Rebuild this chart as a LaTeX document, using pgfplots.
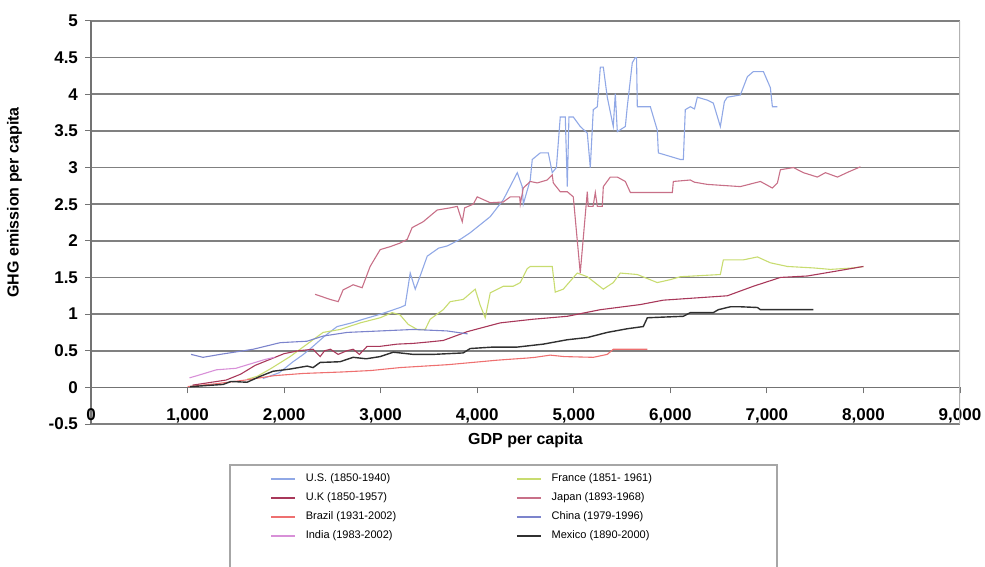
\documentclass[border=0pt]{standalone}
\usepackage{pgfplots}
\pgfplotsset{compat=1.18}
\usepackage{fontspec}
\setmainfont{Liberation Sans}
\definecolor{usc}{HTML}{90A8E6}
\definecolor{chinac}{HTML}{7C84CC}
\definecolor{francec}{HTML}{C8DC70}
\definecolor{ukc}{HTML}{A8385A}
\definecolor{japanc}{HTML}{C87088}
\definecolor{brazilc}{HTML}{EE7070}
\definecolor{indiac}{HTML}{D890D8}
\definecolor{mexicoc}{HTML}{303030}
\begin{document}
\begin{tikzpicture}
\begin{axis}[
  width=434.5pt, height=201.5pt, scale only axis,
  xmin=0, xmax=9000, ymin=-0.5, ymax=5,
  axis x line=middle, axis y line=left,
  axis line style={-, draw=black!55, line width=0.6pt},
  hide obscured x ticks=false,
  xtick={0,1000,...,9000},
  ytick={-0.5,0,0.5,1,1.5,2,2.5,3,3.5,4,4.5,5},
  tick align=outside, major tick length=3pt,
  tick style={draw=black!55, line width=0.5pt},
  ymajorgrids,
  major grid style={draw=black!50, line width=0.8pt},
  /pgf/number format/assume math mode=true,
  /pgf/number format/1000 sep={,},
  tick label style={font=\bfseries\fontsize{8.5}{10}\selectfont},
  xticklabel style={yshift=-4pt},
  xlabel={GDP per capita},
  ylabel={GHG emission per capita},
  xlabel style={font=\bfseries\fontsize{8}{10}\selectfont, at={(axis description cs:0.5,-0.04)}, anchor=center},
  ylabel style={font=\bfseries\fontsize{8}{10}\selectfont, at={(axis description cs:-0.088,0.55)}, anchor=center, rotate=0},
  legend columns=2,
  legend image code/.code={\draw[#1, line width=0.7pt] (0pt,0pt) -- (12pt,0pt);},
  legend style={draw=none, fill=none, inner sep=0pt, at={(axis description cs:0.206,-0.112)}, anchor=north west,
    font=\fontsize{5.5}{6.5}\selectfont, cells={anchor=west}, row sep=0pt,
    /tikz/every odd column/.append style={column sep=3pt},
    /tikz/every even column/.append style={column sep=58pt}},
  every axis plot/.append style={line width=0.55pt},
]
% U.S.
\addplot[usc] coordinates {
(1780,0.12)(1950,0.2)(2093,0.35)(2200,0.45)(2300,0.56)(2420,0.7)(2549,0.83)(2700,0.88)(2819,0.93)(3000,1.0)(3202,1.09)(3254,1.12)(3306,1.56)(3358,1.34)(3409,1.52)(3482,1.79)(3600,1.9)(3689,1.93)(3824,2.02)(3927,2.11)(4031,2.22)(4135,2.33)(4270,2.56)(4415,2.93)(4466,2.74)(4477,2.5)(4549,2.83)(4570,3.11)(4653,3.2)(4736,3.2)(4777,2.93)(4820,3.0)(4860,3.69)(4912,3.69)(4933,2.74)(4950,3.69)(4995,3.69)(5067,3.56)(5140,3.47)(5171,3.0)(5202,3.79)(5244,3.83)(5275,4.37)(5306,4.37)(5347,3.96)(5409,3.56)(5430,4.01)(5451,3.49)(5534,3.56)(5554,3.83)(5606,4.43)(5637,4.5)(5650,4.5)(5658,3.83)(5793,3.83)(5865,3.51)(5876,3.2)(6104,3.11)(6135,3.11)(6155,3.79)(6207,3.83)(6250,3.8)(6280,3.96)(6383,3.92)(6445,3.88)(6518,3.56)(6560,3.9)(6590,3.96)(6725,3.99)(6798,4.24)(6860,4.31)(6964,4.31)(7036,4.09)(7057,3.83)(7109,3.83)
};
\addlegendentry{U.S. (1850-1940)}
% France
\addplot[francec] coordinates {
(1617,0.11)(1720,0.15)(1855,0.25)(2062,0.42)(2238,0.59)(2404,0.75)(2580,0.79)(2788,0.88)(2995,0.95)(3119,1.02)(3200,0.99)(3285,0.86)(3378,0.79)(3461,0.79)(3513,0.93)(3648,1.06)(3720,1.17)(3855,1.2)(3979,1.34)(4031,1.12)(4083,0.95)(4135,1.29)(4270,1.38)(4373,1.38)(4446,1.43)(4518,1.62)(4549,1.65)(4777,1.65)(4808,1.3)(4891,1.34)(5036,1.56)(5140,1.51)(5306,1.34)(5409,1.43)(5482,1.56)(5658,1.54)(5865,1.43)(6000,1.47)(6104,1.51)(6518,1.54)(6549,1.74)(6756,1.74)(6902,1.78)(7036,1.7)(7212,1.65)(7482,1.63)(7658,1.61)(7896,1.63)(8000,1.65)
};
\addlegendentry{France (1851- 1961)}
% U.K.
\addplot[ukc] coordinates {
(1050,0.03)(1200,0.06)(1400,0.1)(1550,0.18)(1700,0.3)(1850,0.38)(2000,0.46)(2150,0.5)(2300,0.52)(2373,0.42)(2420,0.5)(2480,0.52)(2560,0.45)(2650,0.5)(2715,0.52)(2780,0.45)(2860,0.56)(2995,0.56)(3171,0.59)(3337,0.6)(3500,0.62)(3648,0.64)(3896,0.76)(4238,0.88)(4580,0.93)(4933,0.97)(5275,1.06)(5689,1.13)(5927,1.19)(6591,1.25)(6860,1.38)(7140,1.5)(7420,1.52)(7689,1.58)(8000,1.65)
};
\addlegendentry{U.K (1850-1957)}
% Japan
\addplot[japanc] coordinates {
(2321,1.27)(2477,1.2)(2560,1.17)(2611,1.33)(2715,1.4)(2808,1.36)(2891,1.65)(2995,1.88)(3098,1.92)(3202,1.97)(3275,2.02)(3326,2.18)(3440,2.26)(3585,2.42)(3720,2.45)(3793,2.47)(3845,2.26)(3870,2.45)(3959,2.5)(4000,2.6)(4135,2.52)(4270,2.53)(4342,2.6)(4440,2.6)(4446,2.5)(4477,2.72)(4549,2.81)(4622,2.79)(4725,2.83)(4777,2.9)(4788,2.79)(4860,2.67)(4933,2.67)(4995,2.6)(5067,1.56)(5140,2.67)(5150,2.47)(5200,2.47)(5223,2.66)(5244,2.47)(5295,2.47)(5306,2.74)(5378,2.87)(5451,2.87)(5534,2.81)(5586,2.66)(6021,2.66)(6031,2.81)(6207,2.83)(6250,2.8)(6383,2.77)(6725,2.74)(6933,2.81)(7057,2.72)(7109,2.79)(7140,2.97)(7275,3.0)(7378,2.93)(7523,2.87)(7606,2.93)(7731,2.87)(7845,2.94)(7969,3.01)
};
\addlegendentry{Japan (1893-1968)}
% Brazil
\addplot[brazilc] coordinates {
(1000,0.01)(1300,0.05)(1600,0.1)(1900,0.16)(2200,0.19)(2600,0.21)(2900,0.23)(3200,0.27)(3700,0.31)(4200,0.37)(4300,0.38)(4518,0.4)(4600,0.41)(4756,0.44)(4900,0.42)(5202,0.41)(5347,0.45)(5409,0.52)(5762,0.52)
};
\addlegendentry{Brazil (1931-2002)}
% China
\addplot[chinac] coordinates {
(1036,0.45)(1160,0.41)(1337,0.45)(1679,0.52)(1959,0.61)(2238,0.63)(2404,0.7)(2653,0.75)(2995,0.77)(3337,0.79)(3689,0.77)(3900,0.73)
};
\addlegendentry{China (1979-1996)}
% India
\addplot[indiac] coordinates {
(1020,0.13)(1100,0.16)(1200,0.2)(1300,0.24)(1400,0.25)(1500,0.26)(1600,0.3)(1700,0.34)(1800,0.38)(1900,0.41)
};
\addlegendentry{India (1983-2002)}
% Mexico
\addplot[mexicoc, line width=0.7pt] coordinates {
(1026,0.01)(1368,0.04)(1450,0.08)(1617,0.07)(1751,0.15)(1886,0.22)(2062,0.25)(2238,0.29)(2300,0.27)(2373,0.34)(2580,0.35)(2715,0.41)(2850,0.39)(2995,0.42)(3130,0.48)(3202,0.47)(3337,0.45)(3544,0.45)(3855,0.47)(3927,0.53)(4166,0.55)(4415,0.55)(4684,0.59)(4933,0.65)(5140,0.68)(5347,0.75)(5554,0.8)(5720,0.83)(5762,0.95)(6135,0.97)(6207,1.02)(6445,1.02)(6497,1.06)(6622,1.1)(6725,1.1)(6902,1.09)(6933,1.06)(7482,1.06)
};
\addlegendentry{Mexico (1890-2000)}
\draw[black!30, line width=0.6pt] (axis cs:9000,-0.5) -- (axis cs:9000,5);
\coordinate (bl) at (rel axis cs:0,0);
\coordinate (tr) at (rel axis cs:1,1);
\end{axis}
\draw[black!35, line width=0.6pt] ([xshift=69.5pt,yshift=-20.5pt]bl) rectangle ([xshift=343pt,yshift=-90pt]bl);
\pgfresetboundingbox
\path[use as bounding box] ([xshift=-45.5pt,yshift=-71.5pt]bl) rectangle ([xshift=12.5pt,yshift=10.5pt]tr);
\end{tikzpicture}
\end{document}
